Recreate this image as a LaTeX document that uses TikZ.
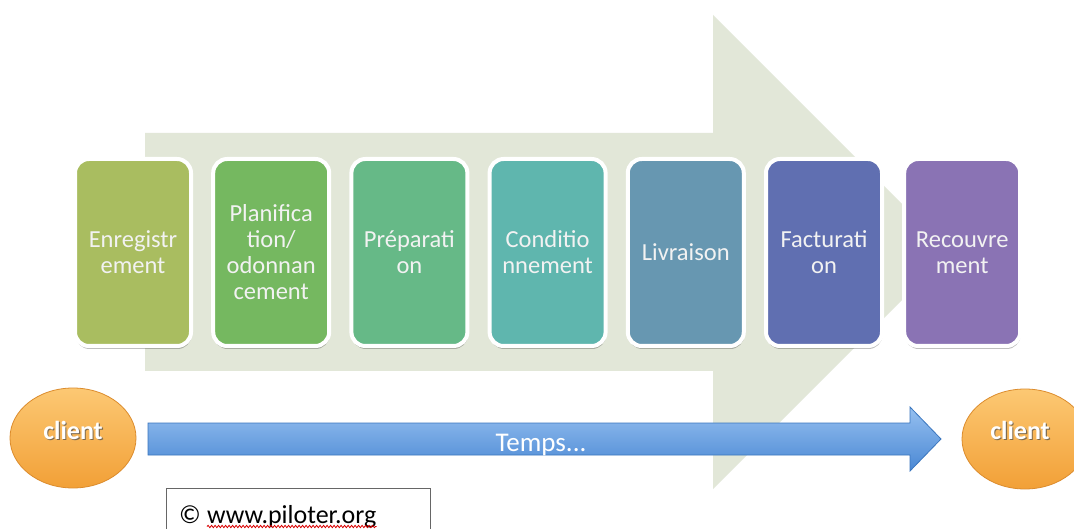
\documentclass[tikz,border=0pt]{standalone}
\usepackage{fontspec}
\setmainfont{Carlito}
\usetikzlibrary{shadows,decorations.pathmorphing,shapes.geometric}
\definecolor{bgarrow}{RGB}{226,231,216}
\definecolor{ca}{RGB}{169,189,96}
\definecolor{cb}{RGB}{117,184,96}
\definecolor{cc}{RGB}{102,185,135}
\definecolor{cd}{RGB}{95,182,174}
\definecolor{ce}{RGB}{103,151,177}
\definecolor{cf}{RGB}{96,111,177}
\definecolor{cg}{RGB}{138,115,180}
\definecolor{blueTop}{RGB}{150,192,240}
\definecolor{blueBot}{RGB}{74,136,212}
\definecolor{blueEdge}{RGB}{58,118,190}
\definecolor{orTop}{RGB}{252,200,115}
\definecolor{orBot}{RGB}{242,160,55}
\definecolor{orEdge}{RGB}{220,140,45}
\tikzset{
  stepbox/.style={rectangle, rounded corners=14pt, draw=white, line width=4pt,
    minimum width=116pt, minimum height=187pt, align=center, text=white!95!black,
    font=\fontsize{24.5}{26}\selectfont, inner sep=2pt,
    drop shadow={shadow xshift=0.5pt, shadow yshift=-3pt, opacity=0.25, fill=black}},
  clientell/.style={ellipse, minimum width=126pt, minimum height=100pt, draw=orEdge,
    line width=0.8pt, top color=orTop, bottom color=orBot},
  clienttxt/.style={font=\bfseries\fontsize{26}{28}\selectfont, inner sep=0pt},
}
\begin{document}
\begin{tikzpicture}[x=1pt,y=-1pt]
\useasboundingbox (0,0) rectangle (1074,529);
\fill[white] (0,0) rectangle (1074,529);
% background arrow
\fill[bgarrow] (145,133) -- (713,133) -- (713,15) -- (950,252) -- (713,489) -- (713,371) -- (145,371) -- cycle;
% steps
\node[stepbox, fill=ca] (s1) at (133,252.5) {Enregistr\\ement};
\node[stepbox, fill=cb] (s2) at (271.2,252.5) {Planifica\\tion/\\odonnan\\cement};
\node[stepbox, fill=cc] (s3) at (409.4,252.5) {Préparati\\on};
\node[stepbox, fill=cd] (s4) at (547.6,252.5) {Conditio\\nnement};
\node[stepbox, fill=ce] (s5) at (685.8,252.5) {Livraison};
\node[stepbox, fill=cf] (s6) at (824,252.5) {Facturati\\on};
\node[stepbox, fill=cg] (s7) at (962.2,252.5) {Recouvre\\ment};
% time arrow
\shade[top color=blueTop, bottom color=blueBot, draw=blueEdge, line width=0.8pt]
  (148,423) -- (910,423) -- (910,407) -- (941,439) -- (910,471) -- (910,455) -- (148,455) -- cycle;
\node[text=white, font=\fontsize{27}{29}\selectfont, inner sep=0pt] (temps) at (541,445) {Temps...};
% clients
\node[clientell] (c1) at (73,438) {};
\node[clienttxt, text=black!70, opacity=0.7] at (74.2,431.2) {client};
\node[clienttxt, text=white] (c1t) at (73,430) {client};
\node[clientell] (c2) at (1025,439) {};
\node[clienttxt, text=black!70, opacity=0.7] at (1021.2,431.2) {client};
\node[clienttxt, text=white] (c2t) at (1020,430) {client};
% copyright box
\draw[black!60, line width=0.6pt] (166,488) rectangle (430,540);
\node[anchor=base west, inner sep=0pt, font=\fontsize{26}{28}\selectfont] (url) at (207,523) {www.piloter.org};
\node[anchor=base east, inner sep=0pt, font=\fontsize{26}{28}\selectfont] (copy) at ([xshift=-6pt]url.base west) {©};
\draw[red!85!black, line width=0.8pt, decorate, decoration={snake, amplitude=1.2pt, segment length=3.5pt}]
  ([yshift=-3.5pt]url.base west) -- ([yshift=-3.5pt]url.base east);
\end{tikzpicture}
\end{document}
